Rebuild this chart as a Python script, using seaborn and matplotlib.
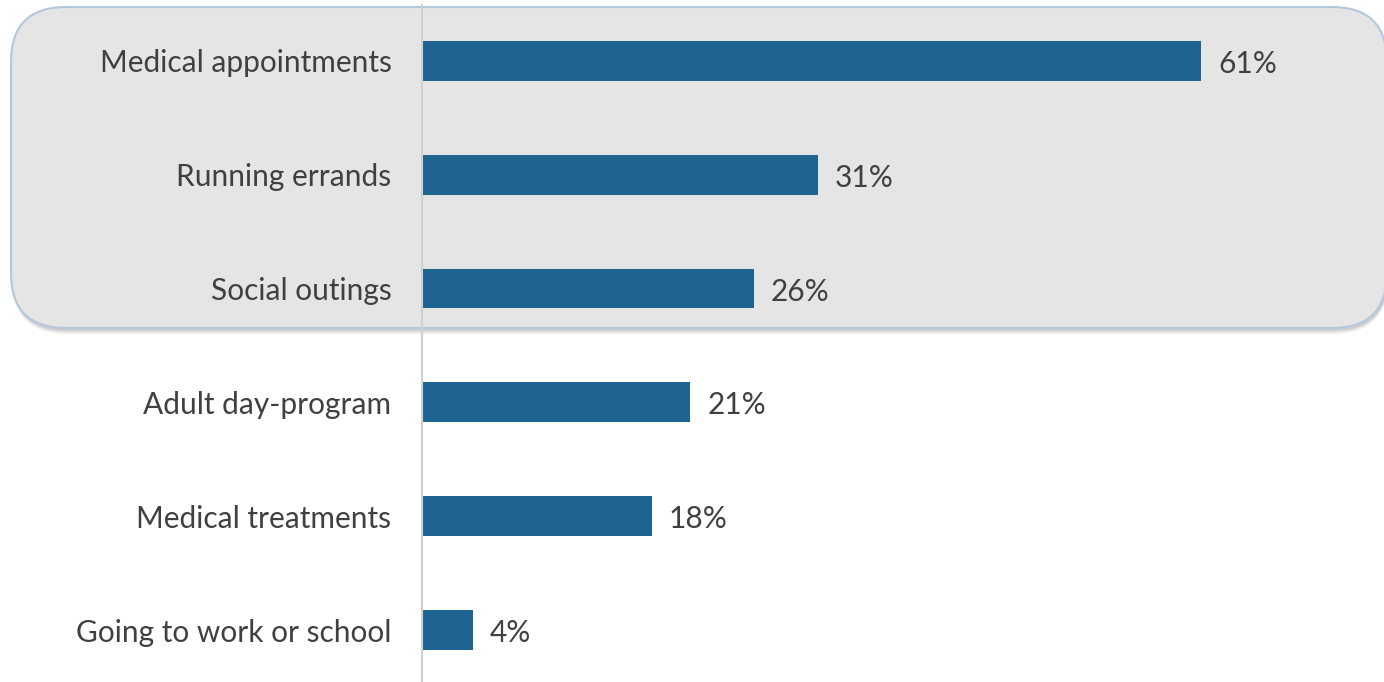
import matplotlib
matplotlib.use("Agg")
import matplotlib.pyplot as plt
from matplotlib.patches import FancyBboxPatch
import seaborn as sns
import pandas as pd

categories = ["Medical appointments", "Running errands", "Social outings",
              "Adult day-program", "Medical treatments", "Going to work or school"]
shares = [61, 31, 26, 21, 18, 4]

df = pd.DataFrame({"purpose": categories, "share": shares})

sns.set_theme(style="white")
plt.rcParams["font.family"] = ["Lato", "DejaVu Sans"]

W, H = 13.84, 6.82
fig = plt.figure(figsize=(W, H), dpi=100)
fig.patch.set_facecolor("white")

# highlight panel behind the top three purposes (inch coordinates)
box_x, box_y, box_w, box_h, rad = 0.11, 3.54, 13.76, 3.21, 0.55
for off, alpha in [(0.06, 0.10), (0.045, 0.14), (0.03, 0.18)]:
    sh = FancyBboxPatch((box_x + 0.01, box_y - off), box_w, box_h,
                        boxstyle=f"round,pad=0,rounding_size={rad}",
                        transform=fig.dpi_scale_trans, facecolor="#7f7f7f",
                        edgecolor="none", alpha=alpha, zorder=-3)
    fig.add_artist(sh)
panel = FancyBboxPatch((box_x, box_y), box_w, box_h,
                       boxstyle=f"round,pad=0,rounding_size={rad}",
                       transform=fig.dpi_scale_trans, facecolor="#e5e5e5",
                       edgecolor="#b3c8de", linewidth=1.5, zorder=-2)
fig.add_artist(panel)

left = 422 / 1384
ax = fig.add_axes([left, 0, 1 - left, 1], zorder=1)
ax.patch.set_alpha(0)

sns.barplot(data=df, y="purpose", x="share", orient="h", color="#1f6391",
            saturation=1, width=0.35, linewidth=0, ax=ax)

ax.set_xlim(0, (1384 - 422) / 12.77)
ax.set_ylim(5.456, -0.535)
ax.set_xlabel("")
ax.set_ylabel("")
ax.set_xticks([])
ax.tick_params(axis="y", length=0, pad=22, labelsize=21.5, labelcolor="#404040")
for s in ["top", "right", "bottom"]:
    ax.spines[s].set_visible(False)
ax.spines["left"].set_color("#d0d0d0")
ax.spines["left"].set_linewidth(1.5)
ax.spines["left"].set_bounds(5.456, -0.49)

for i, v in enumerate(shares):
    ax.annotate(f"{v}%", xy=(v, i), xytext=(17, -3), textcoords="offset pixels",
                ha="left", va="center", fontsize=21.5, color="#404040")

fig.savefig("out.png", dpi=100)
